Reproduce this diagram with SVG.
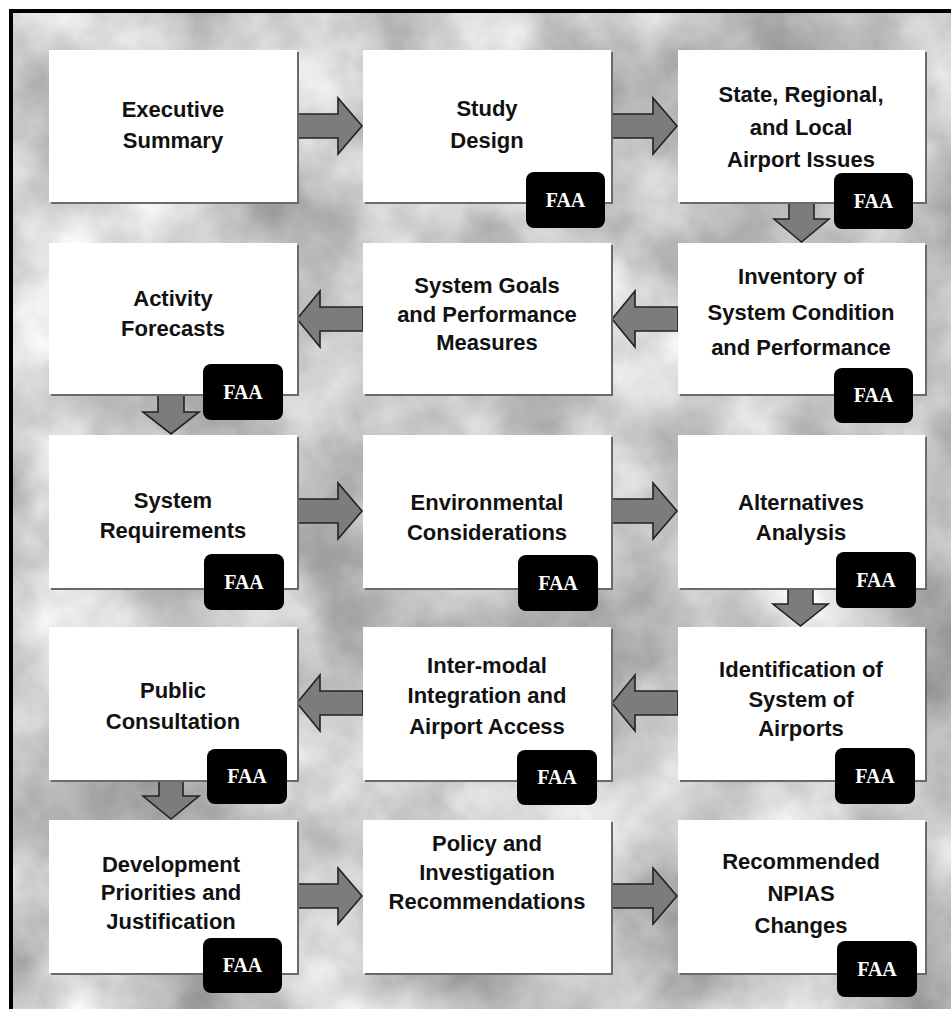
<svg xmlns="http://www.w3.org/2000/svg" width="951" height="1009" viewBox="0 0 951 1009">
<defs>
<filter id="clouds" x="0" y="0" width="100%" height="100%" color-interpolation-filters="sRGB">
<feTurbulence type="fractalNoise" baseFrequency="0.007" numOctaves="5" seed="7"/>
<feColorMatrix type="matrix" values="0.7 0 0 0 0.43  0.7 0 0 0 0.43  0.7 0 0 0 0.43  0 0 0 0 1"/>
</filter>
</defs>
<style>
.box{fill:#ffffff}
.shadow{fill:#6a6a6a}
.lbl{font-family:"Liberation Sans",Arial,sans-serif;font-weight:bold;font-size:22px;fill:#111;text-anchor:middle}
.badge{fill:#000}
.faa{font-family:"Liberation Serif","Times New Roman",serif;font-weight:bold;font-size:20px;fill:#fff;text-anchor:middle}
.arrow{fill:#7c7c7c;stroke:#222;stroke-width:1.6;stroke-linejoin:miter}
</style>
<rect x="0" y="0" width="951" height="1009" fill="#ffffff"/>
<rect x="11" y="11" width="945" height="1003" fill="#c4c4c4" filter="url(#clouds)"/>
<rect x="11" y="11" width="945" height="1003" fill="none" stroke="#000" stroke-width="4"/>

<g id="connectors">
<path class="arrow" d="M297,114 L338,114 L338,98 L362,126 L338,154 L338,138 L297,138 Z"/>
<path class="arrow" d="M611,114 L653,114 L653,98 L677,126 L653,154 L653,138 L611,138 Z"/>
<path class="arrow" d="M789,202 L789,219 L774,219 L801.5,242 L829,219 L814,219 L814,202 Z"/>
<path class="arrow" d="M678,307 L635,307 L635,291 L612,319 L635,347 L635,331 L678,331 Z"/>
<path class="arrow" d="M363,307 L320,307 L320,291 L297,319 L320,347 L320,331 L363,331 Z"/>
<path class="arrow" d="M158,394 L158,412 L143,412 L171,434 L199,412 L184,412 L184,394 Z"/>
<path class="arrow" d="M297,499 L338,499 L338,483 L362,511 L338,539 L338,523 L297,523 Z"/>
<path class="arrow" d="M611,499 L653,499 L653,483 L677,511 L653,539 L653,523 L611,523 Z"/>
<path class="arrow" d="M788,588 L788,604 L773,604 L800.5,626 L828,604 L813,604 L813,588 Z"/>
<path class="arrow" d="M678,691 L635,691 L635,675 L612,703 L635,731 L635,715 L678,715 Z"/>
<path class="arrow" d="M363,691 L320,691 L320,675 L297,703 L320,731 L320,715 L363,715 Z"/>
<path class="arrow" d="M159,780 L159,796 L143,796 L171,819 L199,796 L183,796 L183,780 Z"/>
<path class="arrow" d="M297,884 L338,884 L338,868 L362,896 L338,924 L338,908 L297,908 Z"/>
<path class="arrow" d="M611,884 L653,884 L653,868 L677,896 L653,924 L653,908 L611,908 Z"/>
</g>

<g id="executive-summary">
<rect class="shadow" x="51" y="52" width="248" height="152"/>
<rect class="box" x="49" y="50" width="248" height="152"/>
<text class="lbl" x="173" y="117">Executive</text>
<text class="lbl" x="173" y="148">Summary</text>
</g>
<g id="study-design">
<rect class="shadow" x="365" y="52" width="248" height="152"/>
<rect class="box" x="363" y="50" width="248" height="152"/>
<text class="lbl" x="487" y="116">Study</text>
<text class="lbl" x="487" y="148">Design</text>
<rect class="badge" x="526" y="172" width="79" height="56" rx="8"/>
<text class="faa" x="565.5" y="207">FAA</text>
</g>
<g id="airport-issues">
<rect class="shadow" x="680" y="52" width="247" height="152"/>
<rect class="box" x="678" y="50" width="247" height="152"/>
<text class="lbl" x="801" y="102">State, Regional,</text>
<text class="lbl" x="801" y="135">and Local</text>
<text class="lbl" x="801" y="167">Airport Issues</text>
<rect class="badge" x="834" y="173" width="79" height="56" rx="8"/>
<text class="faa" x="873.5" y="208">FAA</text>
</g>

<g id="activity-forecasts">
<rect class="shadow" x="51" y="245" width="248" height="151"/>
<rect class="box" x="49" y="243" width="248" height="151"/>
<text class="lbl" x="173" y="306">Activity</text>
<text class="lbl" x="173" y="336">Forecasts</text>
<rect class="badge" x="203" y="364" width="80" height="56" rx="8"/>
<text class="faa" x="243" y="399">FAA</text>
</g>
<g id="system-goals">
<rect class="shadow" x="365" y="245" width="248" height="151"/>
<rect class="box" x="363" y="243" width="248" height="151"/>
<text class="lbl" x="487" y="293">System Goals</text>
<text class="lbl" x="487" y="322">and Performance</text>
<text class="lbl" x="487" y="350">Measures</text>
</g>
<g id="inventory">
<rect class="shadow" x="680" y="245" width="247" height="151"/>
<rect class="box" x="678" y="243" width="247" height="151"/>
<text class="lbl" x="801" y="284">Inventory of</text>
<text class="lbl" x="801" y="320">System Condition</text>
<text class="lbl" x="801" y="355">and Performance</text>
<rect class="badge" x="834" y="368" width="79" height="55" rx="8"/>
<text class="faa" x="873.5" y="402">FAA</text>
</g>

<g id="system-requirements">
<rect class="shadow" x="51" y="437" width="248" height="153"/>
<rect class="box" x="49" y="435" width="248" height="153"/>
<text class="lbl" x="173" y="508">System</text>
<text class="lbl" x="173" y="538">Requirements</text>
<rect class="badge" x="204" y="554" width="80" height="56" rx="8"/>
<text class="faa" x="244" y="589">FAA</text>
</g>
<g id="environmental">
<rect class="shadow" x="365" y="437" width="248" height="153"/>
<rect class="box" x="363" y="435" width="248" height="153"/>
<text class="lbl" x="487" y="510">Environmental</text>
<text class="lbl" x="487" y="540">Considerations</text>
<rect class="badge" x="518" y="555" width="80" height="56" rx="8"/>
<text class="faa" x="558" y="590">FAA</text>
</g>
<g id="alternatives">
<rect class="shadow" x="680" y="437" width="247" height="153"/>
<rect class="box" x="678" y="435" width="247" height="153"/>
<text class="lbl" x="801" y="510">Alternatives</text>
<text class="lbl" x="801" y="540">Analysis</text>
<rect class="badge" x="836" y="552" width="80" height="56" rx="8"/>
<text class="faa" x="876" y="587">FAA</text>
</g>

<g id="public-consultation">
<rect class="shadow" x="51" y="629" width="248" height="153"/>
<rect class="box" x="49" y="627" width="248" height="153"/>
<text class="lbl" x="173" y="698">Public</text>
<text class="lbl" x="173" y="729">Consultation</text>
<rect class="badge" x="207" y="749" width="80" height="55" rx="8"/>
<text class="faa" x="247" y="783">FAA</text>
</g>
<g id="intermodal">
<rect class="shadow" x="365" y="629" width="248" height="153"/>
<rect class="box" x="363" y="627" width="248" height="153"/>
<text class="lbl" x="487" y="673">Inter-modal</text>
<text class="lbl" x="487" y="703">Integration and</text>
<text class="lbl" x="487" y="734">Airport Access</text>
<rect class="badge" x="517" y="750" width="80" height="55" rx="8"/>
<text class="faa" x="557" y="784">FAA</text>
</g>
<g id="identification">
<rect class="shadow" x="680" y="629" width="247" height="153"/>
<rect class="box" x="678" y="627" width="247" height="153"/>
<text class="lbl" x="801" y="677">Identification of</text>
<text class="lbl" x="801" y="707">System of</text>
<text class="lbl" x="801" y="736">Airports</text>
<rect class="badge" x="835" y="748" width="80" height="56" rx="8"/>
<text class="faa" x="875" y="783">FAA</text>
</g>

<g id="development-priorities">
<rect class="shadow" x="51" y="822" width="248" height="153"/>
<rect class="box" x="49" y="820" width="248" height="153"/>
<text class="lbl" x="171" y="872">Development</text>
<text class="lbl" x="171" y="900">Priorities and</text>
<text class="lbl" x="171" y="929">Justification</text>
<rect class="badge" x="203" y="938" width="79" height="55" rx="8"/>
<text class="faa" x="242.5" y="972">FAA</text>
</g>
<g id="policy-recommendations">
<rect class="shadow" x="365" y="822" width="248" height="153"/>
<rect class="box" x="363" y="820" width="248" height="153"/>
<text class="lbl" x="487" y="851">Policy and</text>
<text class="lbl" x="487" y="880">Investigation</text>
<text class="lbl" x="487" y="909">Recommendations</text>
</g>
<g id="npias-changes">
<rect class="shadow" x="680" y="822" width="247" height="153"/>
<rect class="box" x="678" y="820" width="247" height="153"/>
<text class="lbl" x="801" y="869">Recommended</text>
<text class="lbl" x="801" y="901">NPIAS</text>
<text class="lbl" x="801" y="933">Changes</text>
<rect class="badge" x="837" y="941" width="80" height="56" rx="8"/>
<text class="faa" x="877" y="976">FAA</text>
</g>
</svg>
